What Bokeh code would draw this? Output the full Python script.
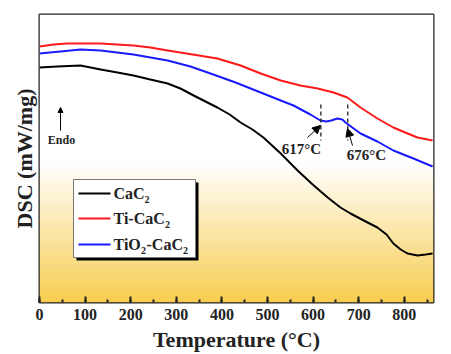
import numpy as np
from bokeh.plotting import figure
from bokeh.models import Range1d, SingleIntervalTicker, FixedTicker, Arrow, NormalHead
from bokeh.core.properties import value
from bokeh.embed import file_html
from bokeh.resources import INLINE

# ---------------- data ----------------
cac2_T = [0, 39, 90, 134, 171, 206, 243, 281, 309, 338, 364, 390, 417, 441, 467, 491, 529, 566, 599,
          632, 660, 682, 711, 741, 761, 776, 792, 807, 829, 847, 862]
cac2_v = [2.35, 2.36, 2.37, 2.33, 2.30, 2.27, 2.23, 2.19, 2.14, 2.07, 2.01, 1.95, 1.88, 1.80, 1.73, 1.65,
          1.49, 1.32, 1.18, 1.05, 0.95, 0.89, 0.82, 0.75, 0.68, 0.59, 0.53, 0.49, 0.47, 0.48, 0.49]

ti_T = [0, 31, 61, 134, 206, 243, 281, 336, 390, 441, 485, 529, 572, 610, 645, 675, 704, 741, 776, 802, 829, 862]
ti_v = [2.56, 2.58, 2.59, 2.59, 2.57, 2.55, 2.52, 2.48, 2.44, 2.37, 2.29, 2.22, 2.17, 2.14, 2.10, 2.05,
        1.95, 1.84, 1.75, 1.70, 1.65, 1.62]

tio2_T = [0, 46, 90, 134, 206, 281, 331, 375, 430, 485, 529, 557, 594, 616, 629, 640, 653, 664, 671,
          686, 704, 741, 776, 820, 862]
tio2_v = [2.49, 2.51, 2.53, 2.52, 2.48, 2.42, 2.36, 2.29, 2.20, 2.10, 2.02, 1.97, 1.88, 1.82, 1.81, 1.82,
          1.84, 1.83, 1.80, 1.75, 1.69, 1.61, 1.52, 1.44, 1.36]

series_names = ["CaC", "Ti-CaC", "TiO"]
peak_temps = [617, 676]
x_ticks = [0, 100, 200, 300, 400, 500, 600, 700, 800]

X_MAX = 864
Y_MAX = 2.88
SERIF = "Liberation Serif"

p = figure(width=451, height=354, output_backend="svg", toolbar_location=None,
           x_range=Range1d(0, X_MAX), y_range=Range1d(0, Y_MAX),
           min_border_left=39, min_border_right=18, min_border_top=14, min_border_bottom=52)
p.background_fill_color = "white"
p.border_fill_color = "white"
p.grid.visible = False
p.outline_line_color = "#222222"
p.outline_line_width = 2

# ---------------- background gradient ----------------
N = 200
rows = np.zeros((N, 2), dtype=np.uint32)
view = rows.view(dtype=np.uint8).reshape((N, 2, 4))
top_c = np.array([255, 255, 255])
bot_c = np.array([248, 206, 80])
start = 1.40
for i in range(N):
    v = (i + 0.5) / N * Y_MAX
    w = np.clip((start - v) / start, 0, 1)
    c = top_c * (1 - w) + bot_c * w
    view[i, :, 0] = int(c[0]); view[i, :, 1] = int(c[1]); view[i, :, 2] = int(c[2]); view[i, :, 3] = 255
p.image_rgba(image=[rows], x=0, y=0, dw=X_MAX, dh=Y_MAX)

# ---------------- curves ----------------
p.line(cac2_T, cac2_v, line_color="black", line_width=2, line_join="round")
p.line(ti_T, ti_v, line_color="#ff1a1a", line_width=2, line_join="round")
p.line(tio2_T, tio2_v, line_color="#1a1aff", line_width=2, line_join="round")

# ---------------- axes ----------------
xa = p.xaxis[0]
xa.ticker = SingleIntervalTicker(interval=100, num_minor_ticks=2)
xa.axis_line_color = None
xa.major_tick_in = 6
xa.major_tick_out = 0
xa.minor_tick_in = 3
xa.minor_tick_out = 0
xa.major_tick_line_width = 2
xa.minor_tick_line_width = 2
xa.major_tick_line_color = "#222222"
xa.minor_tick_line_color = "#222222"
xa.major_label_text_font = SERIF
xa.major_label_text_font_style = "bold"
xa.major_label_text_font_size = "16px"
xa.major_label_text_color = "#222222"
xa.major_label_standoff = 6
xa.axis_label = "Temperature (°C)"
xa.axis_label_text_font = SERIF
xa.axis_label_text_font_style = "bold"
xa.axis_label_text_font_size = "22px"
xa.axis_label_text_color = "#222222"
xa.axis_label_standoff = 4

ya = p.yaxis[0]
ya.ticker = FixedTicker(ticks=[])
ya.axis_line_color = None
ya.major_tick_line_color = None
ya.minor_tick_line_color = None
ya.major_label_standoff = 0
ya.axis_label = "DSC (mW/mg)"
ya.axis_label_text_font = SERIF
ya.axis_label_text_font_style = "bold"
ya.axis_label_text_font_size = "22px"
ya.axis_label_text_color = "#222222"
ya.axis_label_standoff = 3

# ---------------- annotations ----------------
px2T = X_MAX / 394.0
px2v = Y_MAX / 288.0
def fx(px):
    return (px - 39) * px2T
def fy(py):
    return (302 - py) * px2v

# dashed markers at the peak temperatures
for t in peak_temps:
    p.line([t, t], [fy(104), fy(140)], line_color="#222222", line_width=1.3, line_dash="4 3")

p.text([fx(301)], [fy(148)], text=[f"{peak_temps[0]}°C"], text_font=value(SERIF), text_font_style="bold",
       text_font_size="15px", text_align="center", text_baseline="middle", text_color="#222222")
p.text([fx(366)], [fy(154)], text=[f"{peak_temps[1]}°C"], text_font=value(SERIF), text_font_style="bold",
       text_font_size="15px", text_align="center", text_baseline="middle", text_color="#222222")

p.add_layout(Arrow(end=NormalHead(size=8, fill_color="black", line_color="black"),
                   x_start=fx(307), y_start=fy(137), x_end=fx(320), y_end=fy(125),
                   line_color="black", line_width=1))
p.add_layout(Arrow(end=NormalHead(size=8, fill_color="black", line_color="black"),
                   x_start=fx(352), y_start=fy(145), x_end=fx(347), y_end=fy(128),
                   line_color="black", line_width=1))

# Endo arrow
p.add_layout(Arrow(end=NormalHead(size=5, fill_color="black", line_color="black"),
                   x_start=fx(60), y_start=fy(130), x_end=fx(60), y_end=fy(107),
                   line_color="black", line_width=1))
p.text([fx(61)], [fy(139)], text=["Endo"], text_font=value(SERIF), text_font_style="bold",
       text_font_size="12px", text_align="center", text_baseline="middle", text_color="#222222")

# ---------------- legend (drawn by hand, with shadow) ----------------
p.quad(left=fx(76), right=fx(198), top=fy(182), bottom=fy(260), fill_color="black", line_color=None)
p.quad(left=fx(73), right=fx(195), top=fy(179), bottom=fy(257), fill_color="white", line_color="#777777", line_width=1)

row_y = [fy(193), fy(218), fy(244)]
colors = ["black", "#ff1a1a", "#1a1aff"]
for yy, c in zip(row_y, colors):
    p.line([fx(78), fx(110)], [yy, yy], line_color=c, line_width=2)

LF = "16px"
SF = "10px"
tx = fx(113)
def txt(x_off, yy, s, size, y_off=0):
    p.text([tx], [yy], text=[s], x_offset=x_off, y_offset=y_off, text_font=value(SERIF),
           text_font_style="bold", text_font_size=size, text_baseline="middle", text_color="#222222")

# CaC2
txt(0, row_y[0], series_names[0], LF)
txt(31, row_y[0], "2", SF, 6)
# Ti-CaC2
txt(0, row_y[1], series_names[1], LF)
txt(51.5, row_y[1], "2", SF, 6)
# TiO2-CaC2
txt(0, row_y[2], series_names[2], LF)
txt(27.5, row_y[2], "2", SF, 6)
txt(33, row_y[2], "-CaC", LF)
txt(33 + 36.5, row_y[2], "2", SF, 6)

open("out.html", "w").write(file_html(p, INLINE))
